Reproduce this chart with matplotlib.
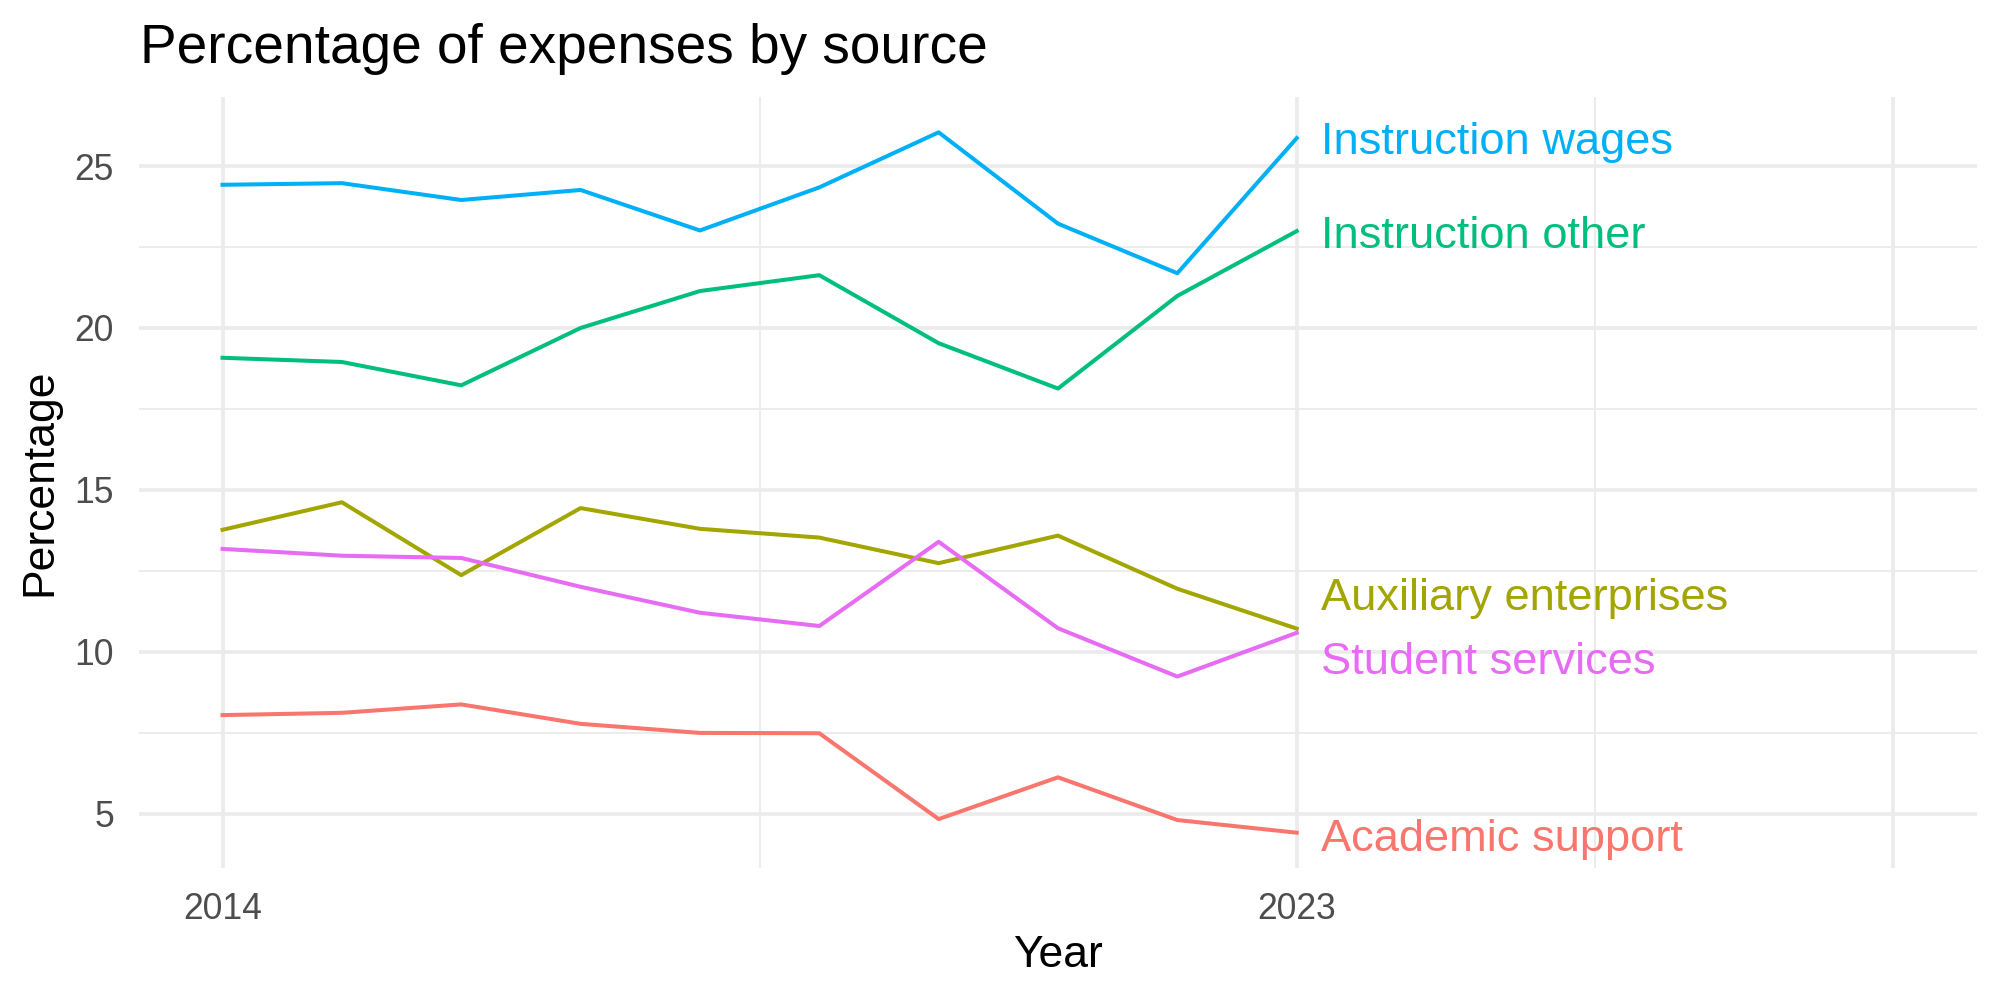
import matplotlib.pyplot as plt

plt.rcParams['font.family'] = ['Liberation Sans', 'DejaVu Sans']

years = [2014, 2015, 2016, 2017, 2018, 2019, 2020, 2021, 2022, 2023]

academic_support = [8.05, 8.12, 8.38, 7.78, 7.50, 7.49, 4.84, 6.13, 4.81, 4.42]
auxiliary_enterprises = [13.77, 14.62, 12.37, 14.44, 13.80, 13.53, 12.74, 13.59, 11.95, 10.72]
instruction_other = [19.08, 18.95, 18.23, 20.00, 21.14, 21.63, 19.53, 18.13, 20.99, 22.99]
instruction_wages = [24.42, 24.47, 23.95, 24.26, 23.01, 24.34, 26.04, 23.22, 21.69, 25.86]
student_services = [13.18, 12.97, 12.90, 12.01, 11.21, 10.80, 13.40, 10.73, 9.24, 10.59]

sources = ['Academic support', 'Auxiliary enterprises', 'Instruction other',
           'Instruction wages', 'Student services']
series = [academic_support, auxiliary_enterprises, instruction_other,
          instruction_wages, student_services]
colors = ['#F8766D', '#A3A500', '#00BF7D', '#00B0F6', '#E76BF3']
# label heights after repel-style nudging
label_y = [4.22, 11.66, 22.83, 25.73, 9.67]

fig = plt.figure(figsize=(10, 5), dpi=200)
ax = fig.add_axes([0.0695, 0.132, 0.919, 0.771])

for name, vals, col, ly in zip(sources, series, colors, label_y):
    ax.plot(years, vals, color=col, lw=1.45, zorder=3)
    ax.text(years[-1] + 0.2, ly, name, color=col, fontsize=16.3,
            ha='left', va='center', zorder=4)

ax.set_xlim(2013.3, 2028.7)
ax.set_ylim(3.33, 27.13)
ax.set_xticks([2014, 2023, 2028])
ax.set_xticklabels(['2014', '2023', ''])
ax.set_xticks([2018.5, 2025.5], minor=True)
ax.set_yticks([5, 10, 15, 20, 25])
ax.set_yticks([7.5, 12.5, 17.5, 22.5], minor=True)

ax.grid(which='major', color='#EBEBEB', lw=1.3, zorder=0)
ax.grid(which='minor', color='#EBEBEB', lw=0.65, zorder=0)
for s in ax.spines.values():
    s.set_visible(False)
ax.tick_params(which='both', length=0)
ax.tick_params(axis='x', labelsize=12.8, labelcolor='#4D4D4D', pad=8.5)
ax.tick_params(axis='y', labelsize=12.8, labelcolor='#4D4D4D', pad=9)

ax.set_xlabel('Year', fontsize=16, labelpad=3)
ax.set_ylabel('Percentage', fontsize=16, labelpad=5)
fig.text(0.07, 0.937, 'Percentage of expenses by source', fontsize=19.8,
         ha='left', va='baseline')

fig.savefig('out.png', dpi=200, facecolor='white')
